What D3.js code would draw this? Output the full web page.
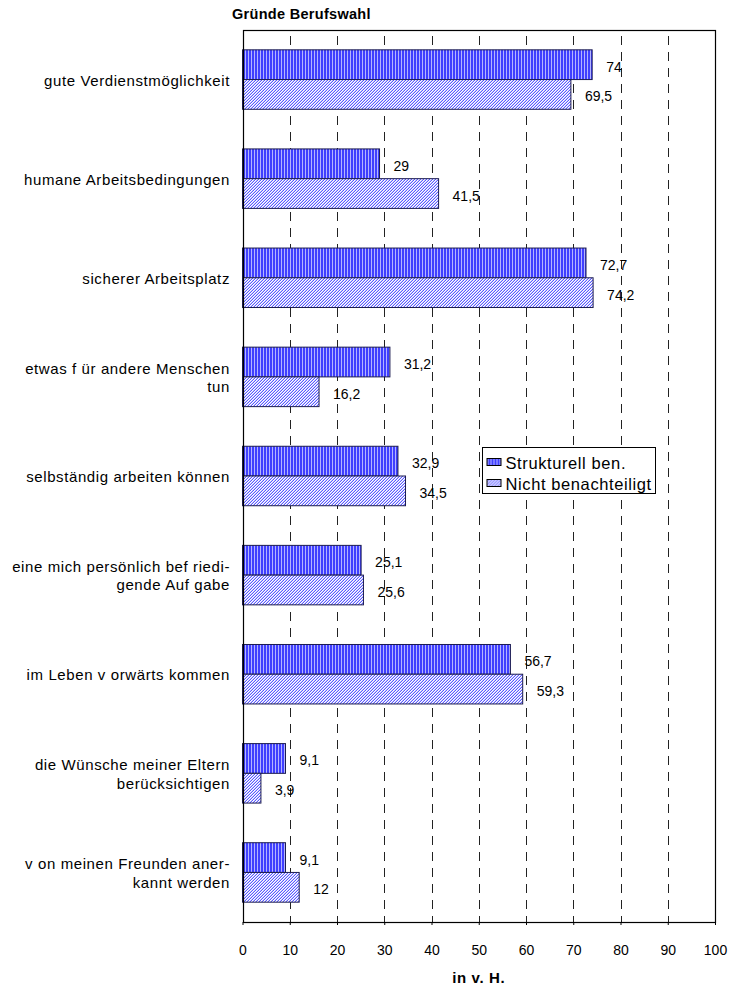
<!DOCTYPE html>
<html><head><meta charset="utf-8">
<script src="https://cdn.jsdelivr.net/npm/d3@7"></script>
<style>
html,body{margin:0;padding:0;background:#fff;}
text{font-family:Arial,"Liberation Sans",sans-serif;fill:#000;}
</style></head>
<body><svg id="c" width="729" height="987"></svg>
<script>
const title = "Gründe Berufswahl";
const axisTitle = "in v. H.";
const categories = [
  ["gute Verdienstmöglichkeit"],
  ["humane Arbeitsbedingungen"],
  ["sicherer Arbeitsplatz"],
  ["etwas f ür andere Menschen", "tun"],
  ["selbständig arbeiten können"],
  ["eine mich persönlich bef riedi-", "gende Auf gabe"],
  ["im Leben v orwärts kommen"],
  ["die Wünsche meiner Eltern", "berücksichtigen"],
  ["v on meinen Freunden aner-", "kannt werden"]
];
const seriesNames = ["Strukturell ben.", "Nicht benachteiligt"];
const strukturell = [74, 29, 72.7, 31.2, 32.9, 25.1, 56.7, 9.1, 9.1];
const nichtBenachteiligt = [69.5, 41.5, 74.2, 16.2, 34.5, 25.6, 59.3, 3.9, 12];
const xTicks = [0, 10, 20, 30, 40, 50, 60, 70, 80, 90, 100];

const svg = d3.select("#c");
const plot = {left: 242.5, right: 715, top: 30, bottom: 922};

const defs = svg.append("defs");
// vertical stripes
const p1 = defs.append("pattern").attr("id","pStripe").attr("patternUnits","userSpaceOnUse")
  .attr("width",3).attr("height",3);
p1.append("rect").attr("width",3).attr("height",3).attr("fill","#3f3fff");
p1.append("rect").attr("x",2).attr("width",1).attr("height",3).attr("fill","#b4b4ff");
// diagonal hatch
const p2 = defs.append("pattern").attr("id","pHatch").attr("patternUnits","userSpaceOnUse")
  .attr("width",3).attr("height",3);
p2.append("rect").attr("width",3).attr("height",3).attr("fill","#ffffff");
[[0,2],[1,1],[2,0]].forEach(([x,y])=>p2.append("rect").attr("x",x).attr("y",y).attr("width",1).attr("height",1).attr("fill","#5a5aff"));
[[0,1],[1,0],[2,2]].forEach(([x,y])=>p2.append("rect").attr("x",x).attr("y",y).attr("width",1).attr("height",1).attr("fill","#c4c4ff"));
const fills = ["url(#pStripe)", "url(#pHatch)"];

const x = d3.scaleLinear().domain([0,100]).range([plot.left, plot.right]);
const y = d3.scaleBand().domain(d3.range(categories.length)).range([plot.top, plot.bottom])
  .paddingInner(0.4).paddingOuter(0.2);
const ys = d3.scaleBand().domain([0,1]).range([0, y.bandwidth()]);

// title
svg.append("text").attr("x",232).attr("y",19).attr("font-weight","bold").attr("font-size",14.5)
  .attr("letter-spacing",0.3).text(title);

svg.append("rect").attr("x",plot.left).attr("y",plot.top).attr("width",plot.right-plot.left)
  .attr("height",plot.bottom-plot.top).attr("fill","#fff");

// gridlines
svg.append("g").selectAll("line").data(xTicks.filter(t=>t>0 && t<100)).join("line")
  .attr("x1",d=>Math.round(x(d))+0.5).attr("x2",d=>Math.round(x(d))+0.5)
  .attr("y1",plot.top).attr("y2",plot.bottom)
  .attr("stroke","#222").attr("stroke-width",1).attr("stroke-dasharray","9,7")
  .attr("stroke-dashoffset",-6);

// bars
const data = [strukturell, nichtBenachteiligt];
data.forEach((vals, si) => {
  const g = svg.append("g");
  g.selectAll("rect").data(vals).join("rect")
    .attr("x", x(0)).attr("y", (d,i)=>y(i)+ys(si))
    .attr("width", d=>x(d)-x(0)).attr("height", ys.bandwidth())
    .attr("fill", fills[si]).attr("stroke","#1c1c50").attr("stroke-width",1);
  g.selectAll("text").data(vals).join("text")
    .attr("x", d=>x(d)+14).attr("y",(d,i)=>y(i)+ys(si)+ys.bandwidth()/2+7)
    .attr("font-size",14)
    .text(d=>String(d).replace(".", ","));
});

// frame
svg.append("rect").attr("x",Math.round(plot.left)+0.5).attr("y",plot.top+0.5)
  .attr("width",Math.round(plot.right)-Math.round(plot.left)).attr("height",plot.bottom-plot.top)
  .attr("fill","none").attr("stroke","#000").attr("stroke-width",1.2);

// x axis
const xAxis = d3.axisBottom(x).tickValues(xTicks).tickSize(3).tickPadding(20).tickFormat(d3.format("d"));
const ax = svg.append("g").attr("transform",`translate(0,${plot.bottom})`).call(xAxis);
ax.select(".domain").remove();
ax.selectAll("line").attr("stroke","#000");
ax.selectAll("text").attr("font-size",14).attr("font-family","Arial, 'Liberation Sans', sans-serif").attr("fill","#000");

svg.append("text").attr("x",(plot.left+plot.right)/2).attr("y",983).attr("text-anchor","middle")
  .attr("font-weight","bold").attr("font-size",15).attr("letter-spacing",0.6).text(axisTitle);

// category labels
const lab = svg.append("g");
categories.forEach((lines, i) => {
  const cy = y(i) + y.bandwidth()/2;
  const n = lines.length;
  lines.forEach((t, j) => {
    lab.append("text").attr("x",230).attr("y", cy + 6 + (j-(n-1)/2)*18.7)
      .attr("text-anchor","end").attr("font-size",15).attr("letter-spacing",0.6).text(t);
  });
});

// legend
const leg = svg.append("g").attr("transform","translate(482.5,447.5)");
leg.append("rect").attr("width",173).attr("height",46).attr("fill","#fff").attr("stroke","#000");
seriesNames.forEach((s,i)=>{
  const yy = 15 + i*21;
  leg.append("rect").attr("x",4.5).attr("y",yy-4).attr("width",14).attr("height",7)
    .attr("fill",fills[i]).attr("stroke","#000");
  leg.append("text").attr("x",23).attr("y",yy+6).attr("font-size",16.5).attr("letter-spacing",0.6).text(s);
});
</script></body></html>
